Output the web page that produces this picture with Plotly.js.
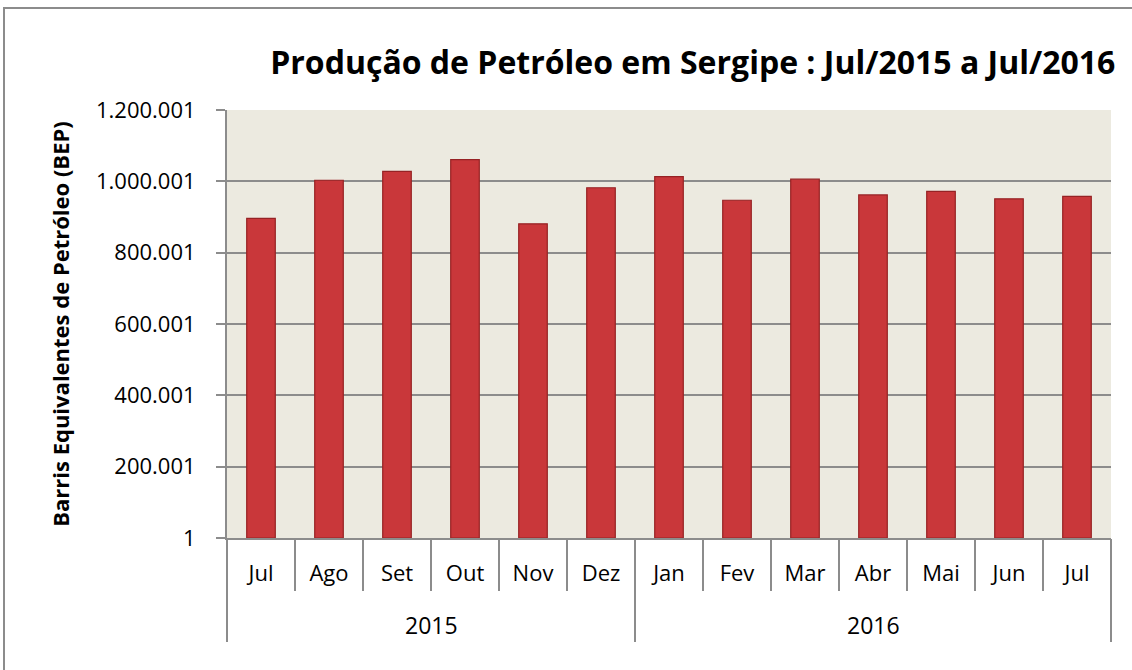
<!DOCTYPE html>
<html>
<head>
<meta charset="utf-8">
<script src="https://cdn.plot.ly/plotly-3.0.1.min.js"></script>
<style>
  html, body { margin: 0; padding: 0; background: #ffffff; overflow: hidden; }
  #wrap { position: relative; width: 1132px; height: 670px; overflow: hidden; }
  #chart { width: 1132px; height: 670px; }
  .fr { position: absolute; background: #8c8c8c; pointer-events: none; }
</style>
</head>
<body>
<div id="wrap">
  <div id="chart"></div>
  <div class="fr" style="left:3px; top:7px; width:1129px; height:2px;"></div>
  <div class="fr" style="left:3px; top:7px; width:2px; height:663px;"></div>
</div>
<script>
// Data
const years = ["2015","2015","2015","2015","2015","2015","2016","2016","2016","2016","2016","2016","2016"];
const months = ["Jul","Ago","Set","Out","Nov","Dez","Jan","Fev","Mar","Abr","Mai","Jun","Jul"];
const production = [896000, 1003000, 1028000, 1061000, 881000, 982000, 1013000, 947000, 1006000, 962000, 972000, 951000, 958000];

const titleText = "Produção de Petróleo em Sergipe : Jul/2015 a Jul/2016";
const yTitleText = "Barris Equivalentes de Petróleo (BEP)";

// Derived positions (category indices)
const idx = months.map((_, i) => i);
const monthBounds = idx.map(i => i - 0.5).concat([months.length - 0.5]);
const yearNames = [...new Set(years)];
const yearBounds = [-0.5];
const yearCenters = [];
yearNames.forEach(y => {
  const ii = idx.filter(i => years[i] === y);
  yearCenters.push((ii[0] + ii[ii.length - 1]) / 2);
  yearBounds.push(ii[ii.length - 1] + 0.5);
});

const FONT = "Open Sans, sans-serif";
const GRID = "#8c8c8c";
const xr = [-0.5, months.length - 0.5];

const bars = {
  type: "bar",
  x: idx,
  y: production,
  hovertext: months.map((m, i) => m + " " + years[i]),
  textposition: "none",
  marker: { color: "#C9373A", line: { color: "#962224", width: 1.2 } },
  width: 0.42,
  hoverinfo: "text+y",
  xaxis: "x", yaxis: "y"
};
// invisible helper traces so the overlay axes are drawn
const helper2 = { type: "scatter", x: monthBounds, y: monthBounds.map(() => null), xaxis: "x2", yaxis: "y", hoverinfo: "skip", showlegend: false };
const helper3 = { type: "scatter", x: yearBounds, y: yearBounds.map(() => null), xaxis: "x3", yaxis: "y", hoverinfo: "skip", showlegend: false };

const annotations = yearNames.map((y, k) => ({
  text: y, x: yearCenters[k], xref: "x", y: -0.203, yref: "paper",
  xanchor: "center", yanchor: "middle", showarrow: false,
  font: { family: FONT, size: 23, color: "#000000" }
}));

const layout = {
  width: 1132,
  height: 670,
  margin: { l: 227, r: 21, t: 110, b: 132 },
  paper_bgcolor: "#ffffff",
  plot_bgcolor: "#ECEAE0",
  separators: ",.",
  showlegend: false,
  font: { family: FONT, color: "#000000" },
  title: {
    text: "<b>" + titleText + "</b>",
    font: { family: FONT, size: 32, color: "#000000" },
    x: 0.612, xanchor: "center",
    y: 0.907, yanchor: "middle"
  },
  xaxis: {
    range: xr, tickmode: "array", tickvals: idx, ticktext: months,
    showline: true, linecolor: GRID, linewidth: 2,
    ticks: "", ticklabelstandoff: 15,
    tickfont: { family: FONT, size: 22, color: "#000000" },
    showgrid: false, zeroline: false, fixedrange: true
  },
  xaxis2: {
    overlaying: "x", matches: "x", side: "bottom", range: xr,
    tickmode: "array", tickvals: monthBounds, showticklabels: false,
    ticks: "outside", ticklen: 52, tickwidth: 2, tickcolor: GRID,
    showline: false, showgrid: false, zeroline: false, fixedrange: true
  },
  xaxis3: {
    overlaying: "x", matches: "x", side: "bottom", range: xr,
    tickmode: "array", tickvals: yearBounds, showticklabels: false,
    ticks: "outside", ticklen: 103, tickwidth: 2, tickcolor: GRID,
    showline: false, showgrid: false, zeroline: false, fixedrange: true
  },
  yaxis: {
    range: [1, 1200001],
    tick0: 1, dtick: 200000,
    tickformat: ",d",
    showline: true, linecolor: GRID, linewidth: 2,
    ticks: "outside", ticklen: 9, tickwidth: 2, tickcolor: GRID,
    ticklabelstandoff: 16,
    showgrid: true, gridcolor: GRID, gridwidth: 2,
    zeroline: false,
    tickfont: { family: FONT, size: 22, color: "#000000" },
    title: {
      text: "<b>" + yTitleText + "</b>",
      font: { family: FONT, size: 22, color: "#000000" },
      standoff: 20
    },
    automargin: false,
    fixedrange: true
  },
  annotations: annotations,
  bargap: 0.58
};

Plotly.newPlot("chart", [bars, helper2, helper3], layout, { displayModeBar: false, staticPlot: true });
</script>
</body>
</html>
